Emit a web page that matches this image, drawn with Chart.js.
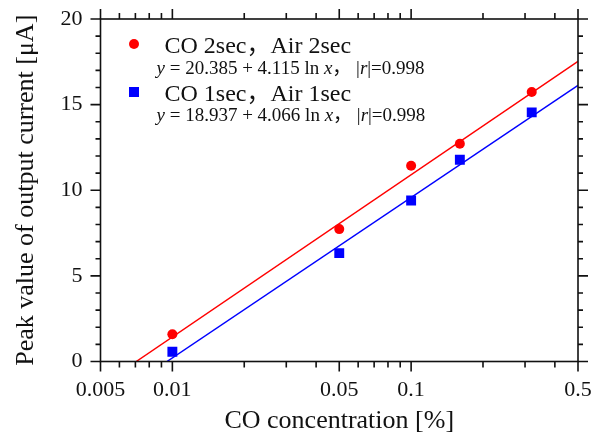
<!DOCTYPE html>
<html><head><meta charset="utf-8">
<script src="https://cdn.jsdelivr.net/npm/chart.js@4/dist/chart.umd.min.js"></script>
<style>html,body{margin:0;padding:0;background:#fff;}</style>
</head><body>
<canvas id="c" width="604" height="434"></canvas>
<script>
// ---- data ----
const concentration = [0.01, 0.05, 0.1, 0.16, 0.32];
const current2sec = [1.59, 7.73, 11.43, 12.72, 15.74];
const current1sec = [0.57, 6.33, 9.40, 11.78, 14.55];
const fit2sec = [20.385, 4.115];   // y = a + b ln x
const fit1sec = [18.937, 4.066];
const xTickValues = [0.005, 0.006, 0.007, 0.008, 0.009, 0.01, 0.02, 0.03, 0.04, 0.05, 0.06, 0.07, 0.08, 0.09, 0.1, 0.2, 0.3, 0.4, 0.5];
const xTickLabels = [0.005, 0.01, 0.05, 0.1, 0.5];
const yTickLabels = [0, 5, 10, 15, 20];
const yMinorTicks = [0,1,2,3,4,5,6,7,8,9,10,11,12,13,14,15,16,17,18,19,20];
const seriesNames = ['CO 2sec，Air 2sec', 'CO 1sec，Air 1sec'];
const fitTexts = [['20.385', '4.115', '0.998'], ['18.937', '4.066', '0.998']];
const xMax = 0.5;

const SERIF = '"Liberation Serif", "Times New Roman", "Noto Sans CJK JP", serif';
const RED = '#ff0000', BLUE = '#0000ff', INK = '#111111';

function fitLine(f) {
  const x0 = Math.exp(-f[0] / f[1]);
  return [{x: x0, y: 0}, {x: xMax, y: f[0] + f[1] * Math.log(xMax)}];
}

const frameTicks = {
  id: 'frameTicks',
  afterDatasetsDraw(chart) {
    const {ctx, chartArea: a, scales: {x, y}} = chart;
    ctx.save();
    ctx.strokeStyle = INK;
    ctx.lineWidth = 1.6;
    ctx.lineCap = 'butt';
    ctx.strokeRect(a.left, a.top, a.right - a.left, a.bottom - a.top);
    ctx.beginPath();
    xTickValues.forEach(v => {
      const px = x.getPixelForValue(v);
      const len = xTickLabels.includes(v) ? 10 : 6;
      ctx.moveTo(px, a.bottom); ctx.lineTo(px, a.bottom + len);
      ctx.moveTo(px, a.top); ctx.lineTo(px, a.top - len);
    });
    yMinorTicks.forEach(v => {
      const py = y.getPixelForValue(v);
      const len = yTickLabels.includes(v) ? 10 : 5;
      ctx.moveTo(a.left, py); ctx.lineTo(a.left - len, py);
      ctx.moveTo(a.right, py); ctx.lineTo(a.right + len, py);
    });
    ctx.stroke();
    ctx.restore();
  }
};

function runs(ctx, x, y, parts) {
  parts.forEach(p => {
    ctx.font = (p.i ? 'italic ' : '') + '19px ' + SERIF;
    ctx.fillText(p.t, x, y);
    x += ctx.measureText(p.t).width;
  });
}

const legendPlugin = {
  id: 'legendPlugin',
  afterDraw(chart) {
    const {ctx, chartArea: a} = chart;
    ctx.save();
    ctx.textBaseline = 'alphabetic';
    ctx.fillStyle = INK;
    const rows = [
      {color: RED, shape: 'circle', top: 0},
      {color: BLUE, shape: 'rect', top: 48}
    ];
    rows.forEach((r, i) => {
      const mx = a.left + 33.5, my = a.top + 25 + r.top;
      ctx.fillStyle = r.color;
      ctx.beginPath();
      if (r.shape === 'circle') { ctx.arc(mx, my, 5, 0, Math.PI * 2); }
      else { ctx.rect(mx - 5, my - 5, 10, 10); }
      ctx.fill();
      ctx.fillStyle = INK;
      ctx.font = '24px ' + SERIF;
      ctx.fillText(seriesNames[i], a.left + 64, a.top + 34 + r.top);
      const t = fitTexts[i];
      runs(ctx, a.left + 56, a.top + 55 + r.top - (i ? 1 : 0), [
        {t: 'y', i: true}, {t: ' = ' + t[0] + ' + ' + t[1] + ' ln '}, {t: 'x', i: true},
        {t: '， |'}, {t: 'r', i: true}, {t: '|=' + t[2]}
      ]);
    });
    ctx.restore();
  }
};

new Chart(document.getElementById('c'), {
  type: 'scatter',
  data: {
    datasets: [
      {type: 'line', data: fitLine(fit2sec), borderColor: RED, borderWidth: 1.5, pointRadius: 0, fill: false, order: 3},
      {type: 'line', data: fitLine(fit1sec), borderColor: BLUE, borderWidth: 1.5, pointRadius: 0, fill: false, order: 4},
      {label: seriesNames[0], data: concentration.map((c, i) => ({x: c, y: current2sec[i]})),
       pointStyle: 'circle', pointRadius: 5, backgroundColor: RED, borderColor: RED, borderWidth: 0, order: 1},
      {label: seriesNames[1], data: concentration.map((c, i) => ({x: c, y: current1sec[i]})),
       pointStyle: 'rect', pointRadius: 7, backgroundColor: BLUE, borderColor: BLUE, borderWidth: 0, order: 2}
    ]
  },
  options: {
    responsive: false, animation: false, devicePixelRatio: 1,
    layout: {padding: {top: 19, right: 26, left: 0, bottom: 0}},
    plugins: {legend: {display: false}, tooltip: {enabled: false}},
    scales: {
      x: {
        type: 'logarithmic', min: 0.005, max: 0.5,
        afterBuildTicks: s => { s.ticks = xTickValues.map(v => ({value: v})); },
        afterFit: s => { s.height = 72.5; s.paddingLeft = 0; s.paddingRight = 0; },
        grid: {display: false, drawTicks: false}, border: {display: false},
        ticks: {autoSkip: false, maxRotation: 0, minRotation: 0, padding: 16, color: INK,
          font: {family: SERIF, size: 22},
          callback: v => xTickLabels.includes(v) ? String(v) : ''},
        title: {display: true, text: 'CO concentration [%]', color: INK,
          font: {family: SERIF, size: 26, lineHeight: 1}, padding: {top: 0, bottom: 0}}
      },
      y: {
        min: 0, max: 20,
        afterBuildTicks: s => { s.ticks = yTickLabels.map(v => ({value: v})); },
        afterFit: s => { s.width = 100.5; s.paddingTop = 0; s.paddingBottom = 0; },
        grid: {display: false, drawTicks: false}, border: {display: false},
        ticks: {padding: 18, color: INK, font: {family: SERIF, size: 22}},
        title: {display: true, text: 'Peak value of output current [μA]', color: INK,
          font: {family: SERIF, size: 26, lineHeight: 1.2}, padding: {top: 11, bottom: 0}}
      }
    }
  },
  plugins: [frameTicks, legendPlugin]
});
</script>
</body></html>
